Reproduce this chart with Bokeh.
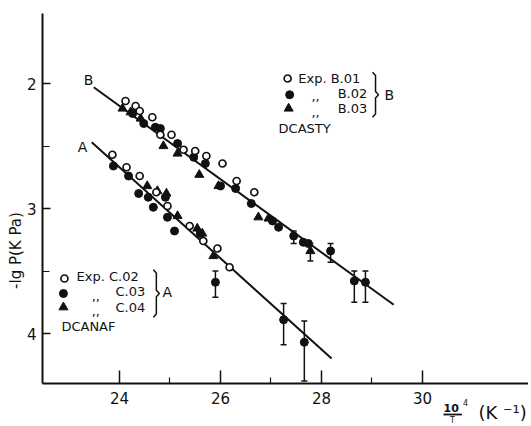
import math
from bokeh.plotting import figure
from bokeh.models import Range1d, FixedTicker, Label, Whisker, ColumnDataSource, TeeHead
from bokeh.embed import file_html
from bokeh.resources import INLINE

# ---------------- data (x = 10^4/T in K^-1, y = -lg P in kPa) ----------------
# Series B (DCASTY)
b01_x = [24.12, 24.32, 24.40, 24.65, 24.81, 25.03, 25.27, 25.50, 25.72, 26.04, 26.32, 26.67]
b01_y = [2.14, 2.18, 2.22, 2.27, 2.41, 2.41, 2.53, 2.54, 2.58, 2.64, 2.78, 2.87]

b02_x = [24.26, 24.48, 24.71, 24.81, 25.15, 25.47, 25.70, 26.00, 26.30, 26.61, 27.03, 27.15,
         27.45, 27.64, 27.74, 28.18, 28.65, 28.87]
b02_y = [2.24, 2.32, 2.35, 2.36, 2.48, 2.59, 2.64, 2.82, 2.84, 2.96, 3.10, 3.15,
         3.22, 3.27, 3.28, 3.34, 3.58, 3.59]
b02_err_x = [27.45, 28.18, 28.65, 28.87]
b02_err_lo = [3.18, 3.28, 3.50, 3.50]
b02_err_hi = [3.28, 3.43, 3.75, 3.75]

b03_x = [24.06, 24.22, 24.42, 24.87, 25.15, 25.58, 25.96, 26.75, 26.95, 27.78]
b03_y = [2.20, 2.23, 2.28, 2.50, 2.56, 2.73, 2.82, 3.07, 3.08, 3.34]
b03_err_x = [27.78]
b03_err_lo = [3.28]
b03_err_hi = [3.42]

# Series A (DCANAF)
c02_x = [23.86, 24.14, 24.40, 24.73, 24.95, 25.39, 25.66, 25.94, 26.18]
c02_y = [2.57, 2.67, 2.74, 2.87, 2.98, 3.14, 3.26, 3.32, 3.47]

c03_x = [23.88, 24.18, 24.38, 24.57, 24.67, 24.91, 24.95, 25.09, 25.60, 25.90, 27.25, 27.66]
c03_y = [2.66, 2.74, 2.88, 2.91, 2.99, 2.91, 3.07, 3.18, 3.20, 3.59, 3.89, 4.07]
c03_err_x = [25.90, 27.25, 27.66]
c03_err_lo = [3.50, 3.76, 3.90]
c03_err_hi = [3.71, 4.09, 4.38]

c04_x = [24.55, 24.75, 24.93, 25.15, 25.54, 25.64, 25.86]
c04_y = [2.82, 2.86, 2.88, 3.06, 3.16, 3.20, 3.38]

# fitted lines
lineB_x = [23.49, 29.43]
lineB_y = [2.03, 3.77]
lineA_x = [23.45, 28.20]
lineA_y = [2.47, 4.20]

x_ticks = [24, 26, 28, 30]
x_minor = [25, 27, 29]
y_ticks = [2, 3, 4]
y_minor = [2.5, 3.5]
x_axis_span = (22.475, 32.1)
y_axis_span = (1.44, 4.4)

FONT = "DejaVu Sans"
INK = "#111111"

p = figure(width=528, height=424, x_range=Range1d(21.644, 32.099), y_range=Range1d(4.728, 1.336),
           output_backend="svg", toolbar_location=None,
           min_border_left=0, min_border_right=0, min_border_top=0, min_border_bottom=0)
p.outline_line_color = None
p.xgrid.visible = False
p.ygrid.visible = False
p.background_fill_color = "white"

for ax in (p.xaxis[0], p.yaxis[0]):
    ax.axis_line_color = INK
    ax.axis_line_width = 2
    ax.major_tick_line_color = INK
    ax.minor_tick_line_color = INK
    ax.major_tick_line_width = 1.5
    ax.minor_tick_line_width = 1.2
    ax.major_tick_out = 0
    ax.minor_tick_out = 0
    ax.major_label_text_font = FONT
    ax.major_label_text_font_size = "15px"
    ax.major_label_text_color = INK

p.xaxis.ticker = FixedTicker(ticks=x_ticks, minor_ticks=x_minor)
p.yaxis.ticker = FixedTicker(ticks=y_ticks, minor_ticks=y_minor)
p.xaxis.fixed_location = y_axis_span[1]
p.yaxis.fixed_location = x_axis_span[0]
p.xaxis.bounds = x_axis_span
p.yaxis.bounds = y_axis_span
p.xaxis.major_tick_in = 13
p.xaxis.minor_tick_in = 6
p.yaxis.major_tick_in = 8
p.yaxis.minor_tick_in = 7
p.xaxis.major_label_standoff = 8
p.yaxis.major_label_standoff = 6

# fitted lines
p.line(lineB_x, lineB_y, line_color=INK, line_width=2)
p.line(lineA_x, lineA_y, line_color=INK, line_width=2)

# error bars
def errbars(xs, lo, hi):
    src = ColumnDataSource(dict(x=xs, lo=lo, hi=hi))
    w = Whisker(source=src, base="x", lower="lo", upper="hi", line_color=INK, line_width=1.5,
                upper_head=TeeHead(size=6, line_color=INK, line_width=1.5),
                lower_head=TeeHead(size=6, line_color=INK, line_width=1.5))
    p.add_layout(w)

errbars(b02_err_x, b02_err_lo, b02_err_hi)
errbars(b03_err_x, b03_err_lo, b03_err_hi)
errbars(c03_err_x, c03_err_lo, c03_err_hi)

# markers
def open_c(x, y):
    p.scatter(x, y, marker="circle", size=7, fill_color="white", line_color=INK, line_width=1.7)

def fill_c(x, y):
    p.scatter(x, y, marker="circle", size=8, fill_color=INK, line_color=INK)

def tri(x, y):
    p.scatter(x, y, marker="triangle", size=9, fill_color=INK, line_color=INK)

fill_c(b02_x, b02_y)
tri(b03_x, b03_y)
open_c(b01_x, b01_y)
fill_c(c03_x, c03_y)
tri(c04_x, c04_y)
open_c(c02_x, c02_y)

def lab(x, y, t, size="13px", align="left", baseline="middle", angle=0.0, style="normal"):
    p.add_layout(Label(x=x, y=y, text=t, text_font=FONT, text_font_size=size, text_color=INK,
                       text_align=align, text_baseline=baseline, angle=angle,
                       text_font_style=style))

# line labels
lab(23.39, 1.97, "B", "14px", "center")
lab(23.27, 2.51, "A", "14px", "center")

# legend B
leg_b_x = [27.33, 27.37, 27.35]
leg_b_y = [1.96, 2.09, 2.20]
open_c([leg_b_x[0]], [leg_b_y[0]])
fill_c([leg_b_x[1]], [leg_b_y[1]])
tri([leg_b_x[2]], [leg_b_y[2]])
lab(27.54, 1.96, "Exp. B.01")
lab(27.80, 2.10, ",,")
lab(28.32, 2.08, "B.02")
lab(27.80, 2.23, ",,")
lab(28.32, 2.20, "B.03")
lab(27.15, 2.36, "DCASTY")
lab(29.25, 2.09, "B", "14px")

# legend A
leg_a_x = [22.91, 22.89, 22.89]
leg_a_y = [3.56, 3.68, 3.79]
open_c([leg_a_x[0]], [leg_a_y[0]])
fill_c([leg_a_x[1]], [leg_a_y[1]])
tri([leg_a_x[2]], [leg_a_y[2]])
lab(23.15, 3.54, "Exp. C.02")
lab(23.45, 3.70, ",,")
lab(23.92, 3.66, "C.03")
lab(23.45, 3.82, ",,")
lab(23.92, 3.79, "C.04")
lab(22.85, 3.94, "DCANAF")
lab(24.85, 3.67, "A", "14px")

# braces
def brace(x0, yt, yb, w):
    ym = (yt + yb) / 2
    d = (yb - yt) * 0.07
    xs = [x0, x0 + w, x0 + w, x0 + 2 * w, x0 + w, x0 + w, x0]
    ys = [yt, yt + d, ym - d, ym, ym + d, yb - d, yb]
    p.line(xs, ys, line_color=INK, line_width=1.5)

brace(29.01, 1.91, 2.27, 0.06)
brace(24.67, 3.49, 3.87, 0.06)

# axis titles
lab(21.96, 3.336, "-lg P(K Pa)", "15px", "center", "middle", math.pi / 2)
lab(30.416, 4.594, "10", "11px", style="bold")
lab(30.80, 4.548, "4", "8px")
p.line([30.416, 30.78], [4.648, 4.648], line_color=INK, line_width=1.8)
lab(30.594, 4.692, "T", "8px", "center")
lab(31.11, 4.632, "(K \u207b\u00b9)", "18px")

open("out.html", "w").write(file_html(p, INLINE))
